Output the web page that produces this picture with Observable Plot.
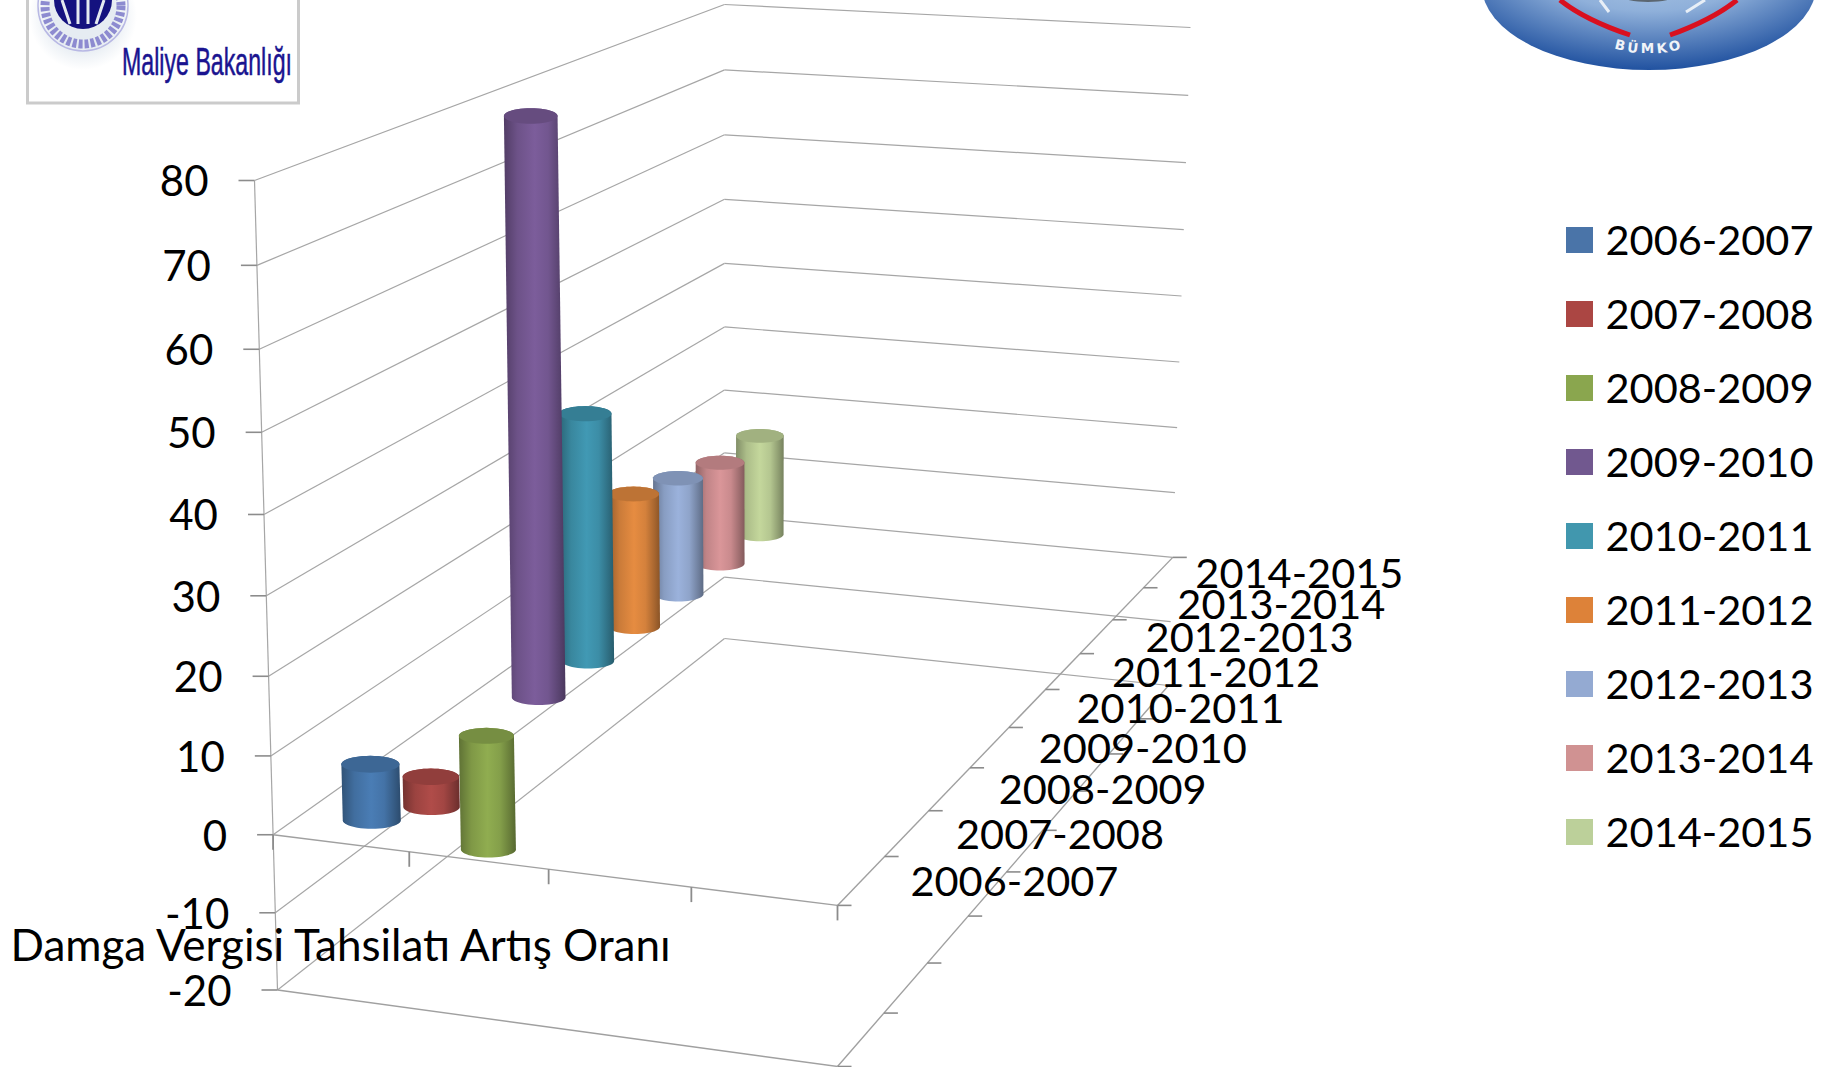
<!DOCTYPE html>
<html><head><meta charset="utf-8">
<style>html,body{margin:0;padding:0;background:#fff;overflow:hidden}svg{display:block}</style>
<script src="https://cdn.jsdelivr.net/npm/d3@7"></script>
<script src="https://cdn.jsdelivr.net/npm/@observablehq/plot@0.6"></script>
</head><body><div id="chart"></div>
<script>
const periods = ["2006-2007","2007-2008","2008-2009","2009-2010","2010-2011","2011-2012","2012-2013","2013-2014","2014-2015"];
const growth = [7.2,-4,-15.6,78.5,35,19.4,17.4,15.5,15.5];
const barColors = ["#4a7db5","#b04c49","#90ad50","#7c5d9b","#4199b4","#e68c41","#9bb2dc","#da9699","#c4d79c"];
const legendColors = ["#4a74a8","#ab4643","#8aa64e","#71588f","#4197ae","#dd8239","#94aad2","#d09292","#bcd09a"];
const valueTicks = [80,70,60,50,40,30,20,10,0,-10,-20];
const categoryTitle = "Damga Vergisi Tahsilatı Artış Oranı";
const font = "Lato, 'Open Sans', sans-serif";

// Perspective camera of the 3D box: each vertical edge of the box, from level -20 to level 80.
const edges = {
  frontLeft:  {x0:277, y0:989.5,x1:254,  y1:180, k:1.0535},
  frontRight: {x0:837, y0:1066, x1:837,  y1:226, k:1.0535},
  backRight:  {x0:1168,y0:685,  x1:1190, y1:27,  k:1.034},
  backLeft:   {x0:724, y0:638,  x1:724,  y1:4,   k:1.035}
};
function edgeAt(e, v){
  const t=(v+20)/100, s=t/(t+(1-t)*e.k);
  return [e.x0+(e.x1-e.x0)*s, e.y0+(e.y1-e.y0)*s];
}
function project(u,w,v){
  const [x0,y0]=edgeAt(edges.frontLeft,v),[x1,y1]=edgeAt(edges.frontRight,v),
        [x2,y2]=edgeAt(edges.backRight,v),[x3,y3]=edgeAt(edges.backLeft,v);
  const sx=x0-x1+x2-x3, sy=y0-y1+y2-y3, dx1=x1-x2, dx2=x3-x2, dy1=y1-y2, dy2=y3-y2;
  const den=dx1*dy2-dx2*dy1, g=(sx*dy2-dx2*sy)/den, h=(dx1*sy-sx*dy1)/den;
  const a=x1-x0+g*x1, b=x3-x0+h*x3, d=y1-y0+g*y1, e=y3-y0+h*y3, q=g*u+h*w+1;
  return [(a*u+b*w+x0)/q,(d*u+e*w+y0)/q];
}
const seg=(a,b)=>({x1:a[0],y1:a[1],x2:b[0],y2:b[1]});

// walls
const sideGrid = valueTicks.map(v=>seg(project(0,0,v),project(0,1,v)));
const backGrid = valueTicks.map(v=>seg(project(0,1,v),project(1,1,v)));
const floorEdges = [0,-20].flatMap(v=>[seg(project(0,0,v),project(1,0,v)),seg(project(1,0,v),project(1,1,v))]);
const vertAxis = [seg(project(0,0,80),project(0,0,-20))];
// ticks
const valueTickLinks = valueTicks.map(v=>{const p=project(0,0,v);return seg(p,[p[0]-16,p[1]]);});
const depthTicks = [0,-20].flatMap(v=>d3.range(periods.length+1).map(i=>{const p=project(1,i/periods.length,v);return seg(p,[p[0]+14,p[1]]);}));
const catTicks = d3.range(5).map(i=>{const p=project(i/4,0,0);return seg(p,[p[0],p[1]+15]);});

// cylinders
const ellipse=(cx,cy,rx,ry)=>d3.range(0,49).map(i=>{const a=i/48*2*Math.PI;return {x:cx+rx*Math.cos(a),y:cy+ry*Math.sin(a)};});
const uBar=1/8, rBar=0.054, flat=0.29;
const bars = periods.map((p,i)=>{
  const w=(i+.5)/periods.length;
  const base=project(uBar,w,0), end=project(uBar,w,growth[i]);
  const L=project(uBar-rBar,w,0), R=project(uBar+rBar,w,0);
  const rx=(R[0]-L[0])/2, ry=rx*flat;
  const topP = growth[i]>=0? end: base, botP = growth[i]>=0? base: end;
  const half=(c,from,to)=>d3.range(0,25).map(j=>{const a=from+(to-from)*j/24;return {x:c[0]+rx*Math.cos(a),y:c[1]+ry*Math.sin(a)};});
  const body=[...half(topP,Math.PI,2*Math.PI),...half(botP,0,Math.PI)];
  body.push(body[0]);
  return {i,body,cap:ellipse(topP[0],topP[1],rx,ry)};
});

function svgDefs(){
  const g=d3.create("svg:defs");
  barColors.forEach((c,i)=>{
    const lg=g.append("linearGradient").attr("id","cyl"+i).attr("x1",0).attr("x2",1).attr("y1",0).attr("y2",0);
    [[0,.66],[.22,.88],[.5,1],[.72,.92],[.9,.72],[1,.6]].forEach(([o,f])=>{
      const k=d3.rgb(c);lg.append("stop").attr("offset",o).attr("stop-color",d3.rgb(k.r*f,k.g*f,k.b*f).formatHex());
    });
  });
  g.html(g.html()+`
   <radialGradient id="bumko" cx="50%" cy="30%" r="70%"><stop offset="0" stop-color="#b7cfe9"/><stop offset=".5" stop-color="#8fb0da"/><stop offset="1" stop-color="#2152a0"/></radialGradient>
   <radialGradient id="glow"><stop offset=".6" stop-color="#e6ecf2"/><stop offset="1" stop-color="#ffffff"/></radialGradient>
   <path id="bumkoArc" d="M1604 45Q1649 62 1694 45"/>`);
  return g.node();
}
function logos(){
  const g=d3.create("svg:g");
  g.html(`
  <rect x="27.5" y="-10" width="271" height="113" fill="#fff" stroke="#cbcbcb" stroke-width="3"/>
  <circle cx="83" cy="16" r="54" fill="url(#glow)"/>
  <circle cx="83" cy="6" r="45" fill="none" stroke="#b8b8e4" stroke-width="1.5"/>
  <circle cx="83" cy="6" r="38" fill="none" stroke="#8d8bd0" stroke-width="9" stroke-dasharray="4 2"/>
  <circle cx="83" cy="0" r="29" fill="#14127f"/>
  <path d="M62 0L70 24M78 -4L78 24M88 -4L88 24M104 0L96 24" stroke="#e4eaf0" stroke-width="3" fill="none"/>
  <text x="0" y="75" text-anchor="start" font-family="'Liberation Sans'" font-size="38" fill="#1a1490" stroke="#1a1490" stroke-width=".5" transform="translate(122 0) scale(.61 1)">Maliye Bakanlığı</text>
  <ellipse cx="1649" cy="-14" rx="167" ry="84" fill="url(#bumko)"/>
  <path d="M1560 0Q1585 20 1630 35" fill="none" stroke="#d9101f" stroke-width="5"/>
  <path d="M1737 0Q1712 20 1670 35" fill="none" stroke="#d9101f" stroke-width="5"/>
  <path d="M1600 0L1609 12M1705 0L1686 12" stroke="#e8eff7" stroke-width="3"/>
  <ellipse cx="1648" cy="-4" rx="26" ry="6" fill="#5b6670"/>
  <text text-anchor="middle" font-family="'DejaVu Sans'" font-weight="bold" font-size="13.5" letter-spacing="3" fill="#f1f4f8"><textPath href="#bumkoArc" startOffset="50%">BÜMKO</textPath></text>`);
  return g.node();
}

const gridOpts={x1:"x1",y1:"y1",x2:"x2",y2:"y2"};
const legendRows = periods.map((p,i)=>({p,i,row:240+i*74}));
const plot = Plot.plot({
  width:1835,height:1067,margin:0,
  x:{domain:[0,1835],range:[0,1835],axis:null},
  y:{domain:[0,1067],range:[0,1067],axis:null},
  marks:[
    svgDefs,
    logos,
    Plot.link(sideGrid,{...gridOpts,stroke:"#a6a6a6",strokeWidth:1.2}),
    Plot.link(backGrid,{...gridOpts,stroke:"#a6a6a6",strokeWidth:1.2}),
    Plot.link(floorEdges,{...gridOpts,stroke:"#a0a0a0",strokeWidth:1.4}),
    Plot.link(vertAxis,{...gridOpts,stroke:"#a6a6a6",strokeWidth:1.2}),
    Plot.link(valueTickLinks,{...gridOpts,stroke:"#8c8c8c",strokeWidth:1.6}),
    Plot.link(depthTicks,{...gridOpts,stroke:"#8c8c8c",strokeWidth:1.6}),
    Plot.link(catTicks,{...gridOpts,stroke:"#8c8c8c",strokeWidth:1.8}),
    ...bars.slice().reverse().flatMap(b=>[
      Plot.line(b.body,{x:"x",y:"y",fill:`url(#cyl${b.i})`,stroke:"none"}),
      Plot.line(b.cap,{x:"x",y:"y",fill:d3.rgb(barColors[b.i]).darker(.55).formatHex(),stroke:"none"})
    ]),
    Plot.text(valueTicks,{
      x:v=>project(0,0,v)[0]-46,y:v=>project(0,0,v)[1]+2.5,text:v=>String(v),
      textAnchor:"end",lineAnchor:"middle",fontSize:42,fontFamily:font,fill:"#000"}),
    Plot.text(periods,{
      x:(p,i)=>project(1,(i+.5)/periods.length,0)[0]+(i===8?141:153),
      y:(p,i)=>project(1,(i+.5)/periods.length,0)[1]+2,text:p=>p,
      textAnchor:"middle",lineAnchor:"middle",fontSize:41.5,fontFamily:font,fill:"#000"}),
    Plot.text([categoryTitle],{x:[10],y:[946],text:d=>d,textAnchor:"start",lineAnchor:"middle",fontSize:44,fontFamily:font,fill:"#000"}),
    Plot.rect(legendRows,{x1:()=>1566,x2:()=>1593,y1:d=>d.row-13,y2:d=>d.row+13,fill:(d)=>legendColors[d.i]}),
    Plot.text(legendRows,{x:()=>1605,y:d=>d.row+1,text:"p",textAnchor:"start",lineAnchor:"middle",fontSize:41.5,fontFamily:font,fill:"#000"})
  ]
});
document.getElementById("chart").append(plot);
</script></body></html>
